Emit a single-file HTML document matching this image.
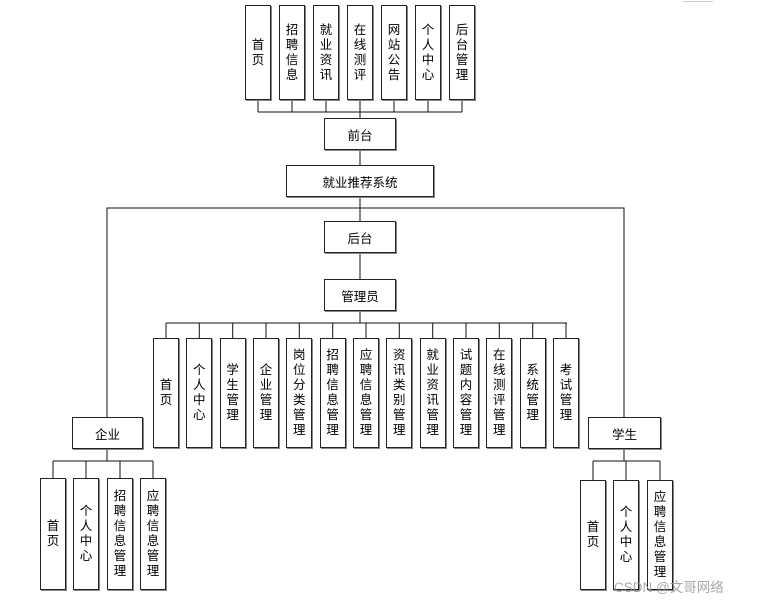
<!DOCTYPE html>
<html><head><meta charset="utf-8"><style>
body{margin:0;background:#fff;width:767px;height:604px;overflow:hidden;position:relative;font-family:"Liberation Sans","Noto Sans CJK SC",sans-serif;}
.b{position:absolute;box-sizing:border-box;border:1px solid #222;box-shadow:1px 1px 0 #888;background:#fff;display:flex;align-items:center;justify-content:center;font-size:12.5px;color:#000;}
.v{width:13px;line-height:15px;text-align:center;word-break:break-all;}
svg{position:absolute;left:0;top:0;}
.wm{position:absolute;left:614px;top:576px;font-size:13.5px;color:#999;opacity:.85;}
</style></head><body>
<svg width="767" height="604" stroke="#111" stroke-width="1" fill="none">
<line x1="683" y1="1.5" x2="713" y2="1.5" stroke="#ccc"/>
<!-- top -->
<path d="M258 100V112M292 100V112M326 100V112M360 100V118M394 100V112M428 100V112M462 100V112M258 112H462"/>
<line x1="360" y1="150" x2="360" y2="165"/>
<line x1="360" y1="197" x2="360" y2="221"/>
<path d="M107 417V208H624V417"/>
<line x1="360" y1="253" x2="360" y2="279"/>
<path d="M360 311V323M166 323H567"/>
<path d="M166 323V338M199.3 323V338M232.7 323V338M266 323V338M299.3 323V338M332.7 323V338M366 323V338M399.3 323V338M432.7 323V338M466 323V338M499.3 323V338M532.7 323V338M566 323V338"/>
<path d="M107 449V461M53 461H153M53 461V478M86 461V478M120 461V478M153 461V478"/>
<path d="M624 449V461M593 461H660M593 461V480M626 461V480M660 461V480"/>
</svg>
<div class="b" style="left:245px;top:5px;width:26px;height:95px"><div class="v">首页</div></div>
<div class="b" style="left:279px;top:5px;width:26px;height:95px"><div class="v">招聘信息</div></div>
<div class="b" style="left:313px;top:5px;width:26px;height:95px"><div class="v">就业资讯</div></div>
<div class="b" style="left:347px;top:5px;width:26px;height:95px"><div class="v">在线测评</div></div>
<div class="b" style="left:381px;top:5px;width:26px;height:95px"><div class="v">网站公告</div></div>
<div class="b" style="left:415px;top:5px;width:26px;height:95px"><div class="v">个人中心</div></div>
<div class="b" style="left:449px;top:5px;width:26px;height:95px"><div class="v">后台管理</div></div>
<div class="b" style="left:324px;top:118px;width:72px;height:32px">前台</div>
<div class="b" style="left:286px;top:165px;width:148px;height:32px">就业推荐系统</div>
<div class="b" style="left:324px;top:221px;width:72px;height:32px">后台</div>
<div class="b" style="left:324px;top:279px;width:72px;height:32px">管理员</div>
<div class="b" style="left:153px;top:338px;width:26px;height:110px"><div class="v">首页</div></div>
<div class="b" style="left:186.3px;top:338px;width:26px;height:110px"><div class="v">个人中心</div></div>
<div class="b" style="left:219.7px;top:338px;width:26px;height:110px"><div class="v">学生管理</div></div>
<div class="b" style="left:253px;top:338px;width:26px;height:110px"><div class="v">企业管理</div></div>
<div class="b" style="left:286.3px;top:338px;width:26px;height:110px"><div class="v">岗位分类管理</div></div>
<div class="b" style="left:319.7px;top:338px;width:26px;height:110px"><div class="v">招聘信息管理</div></div>
<div class="b" style="left:353px;top:338px;width:26px;height:110px"><div class="v">应聘信息管理</div></div>
<div class="b" style="left:386.3px;top:338px;width:26px;height:110px"><div class="v">资讯类别管理</div></div>
<div class="b" style="left:419.7px;top:338px;width:26px;height:110px"><div class="v">就业资讯管理</div></div>
<div class="b" style="left:453px;top:338px;width:26px;height:110px"><div class="v">试题内容管理</div></div>
<div class="b" style="left:486.3px;top:338px;width:26px;height:110px"><div class="v">在线测评管理</div></div>
<div class="b" style="left:519.7px;top:338px;width:26px;height:110px"><div class="v">系统管理</div></div>
<div class="b" style="left:553px;top:338px;width:26px;height:110px"><div class="v">考试管理</div></div>
<div class="b" style="left:72px;top:417px;width:71px;height:32px">企业</div>
<div class="b" style="left:588px;top:417px;width:73px;height:32px">学生</div>
<div class="b" style="left:40px;top:478px;width:26px;height:112px"><div class="v">首页</div></div>
<div class="b" style="left:73px;top:478px;width:26px;height:112px"><div class="v">个人中心</div></div>
<div class="b" style="left:107px;top:478px;width:26px;height:112px"><div class="v">招聘信息管理</div></div>
<div class="b" style="left:140px;top:478px;width:26px;height:112px"><div class="v">应聘信息管理</div></div>
<div class="b" style="left:580px;top:480px;width:26px;height:110px"><div class="v">首页</div></div>
<div class="b" style="left:613px;top:480px;width:26px;height:110px"><div class="v">个人中心</div></div>
<div class="b" style="left:647px;top:480px;width:26px;height:110px"><div class="v">应聘信息管理</div></div>
<div class="wm">CSDN @文哥网络</div>
</body></html>
